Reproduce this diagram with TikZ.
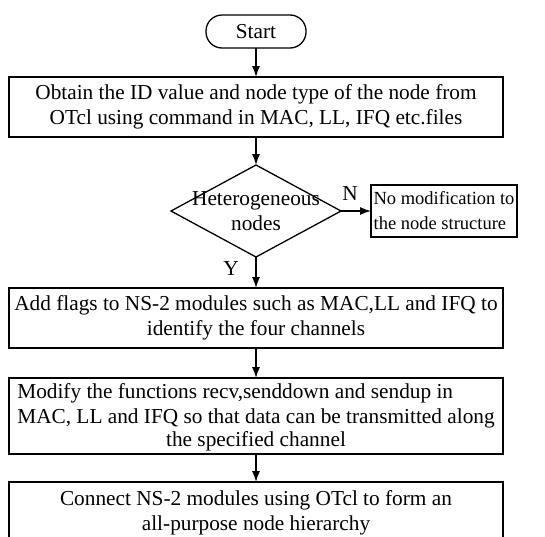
\documentclass[tikz,border=0pt]{standalone}
\usepackage{fontspec}
\setmainfont{Liberation Serif}
\usetikzlibrary{shapes.geometric,arrows.meta}

\begin{document}
\begin{tikzpicture}[x=1pt, y=-1pt, line width=1.3pt,
    font=\fontsize{21.3}{25}\selectfont,
    >={Latex[length=11pt,width=8pt]},
    box/.style={draw, line width=1.8pt, minimum width=494pt, align=center, inner sep=2pt, outer sep=0pt},
    decision/.style={draw, diamond, minimum width=170pt, minimum height=92pt, inner sep=0pt, outer sep=0pt}]
    \clip (0,0) rectangle (545,536);

    \node [draw, rounded corners=16pt, minimum width=100pt, minimum height=33pt, outer sep=0pt] (start) at (256,31.5) {Start};

    \node [box, minimum height=60pt] (obtain) at (256,107) {Obtain the ID value and node type of the node from\\OTcl using command in MAC, LL, IFQ etc.files};

    \node [decision] (hetero) at (256,211) {};
    \node [align=center] (heterotext) at (256,211) {Heterogeneous\\nodes};

    \node [draw, line width=1.8pt, align=left, minimum width=146pt, minimum height=52pt, inner sep=2pt, outer sep=0pt,
        font=\fontsize{18.5}{25}\selectfont] (nomod) at (444,211) {No modification to\\the node structure};
    \node (nlabel) at (350,194) {N};
    \node (ylabel) at (231,269) {Y};

    \node [box, minimum height=60pt] (flags) at (256,318) {Add flags to NS-2 modules such as MAC,LL and IFQ to\\identify the four channels};

    \node [box, minimum height=76pt] (modify) at (256,416) {\begin{tabular}{@{}l@{}}Modify the functions recv,senddown and sendup in\\MAC, LL and IFQ so that data can be transmitted along\end{tabular}\\the specified channel};

    \node [box, minimum height=62pt] (connect) at (256,513) {Connect NS-2 modules using OTcl to form an\\all-purpose node hierarchy};

    \draw [->] (start) -- (obtain);
    \draw [->] (obtain) -- (hetero);
    \draw [->] (hetero) -- (flags);
    \draw [->] (hetero.east) -- (nomod.west);
    \draw [->] (flags) -- (modify);
    \draw [->] (modify) -- (connect);
\end{tikzpicture}
\end{document}
